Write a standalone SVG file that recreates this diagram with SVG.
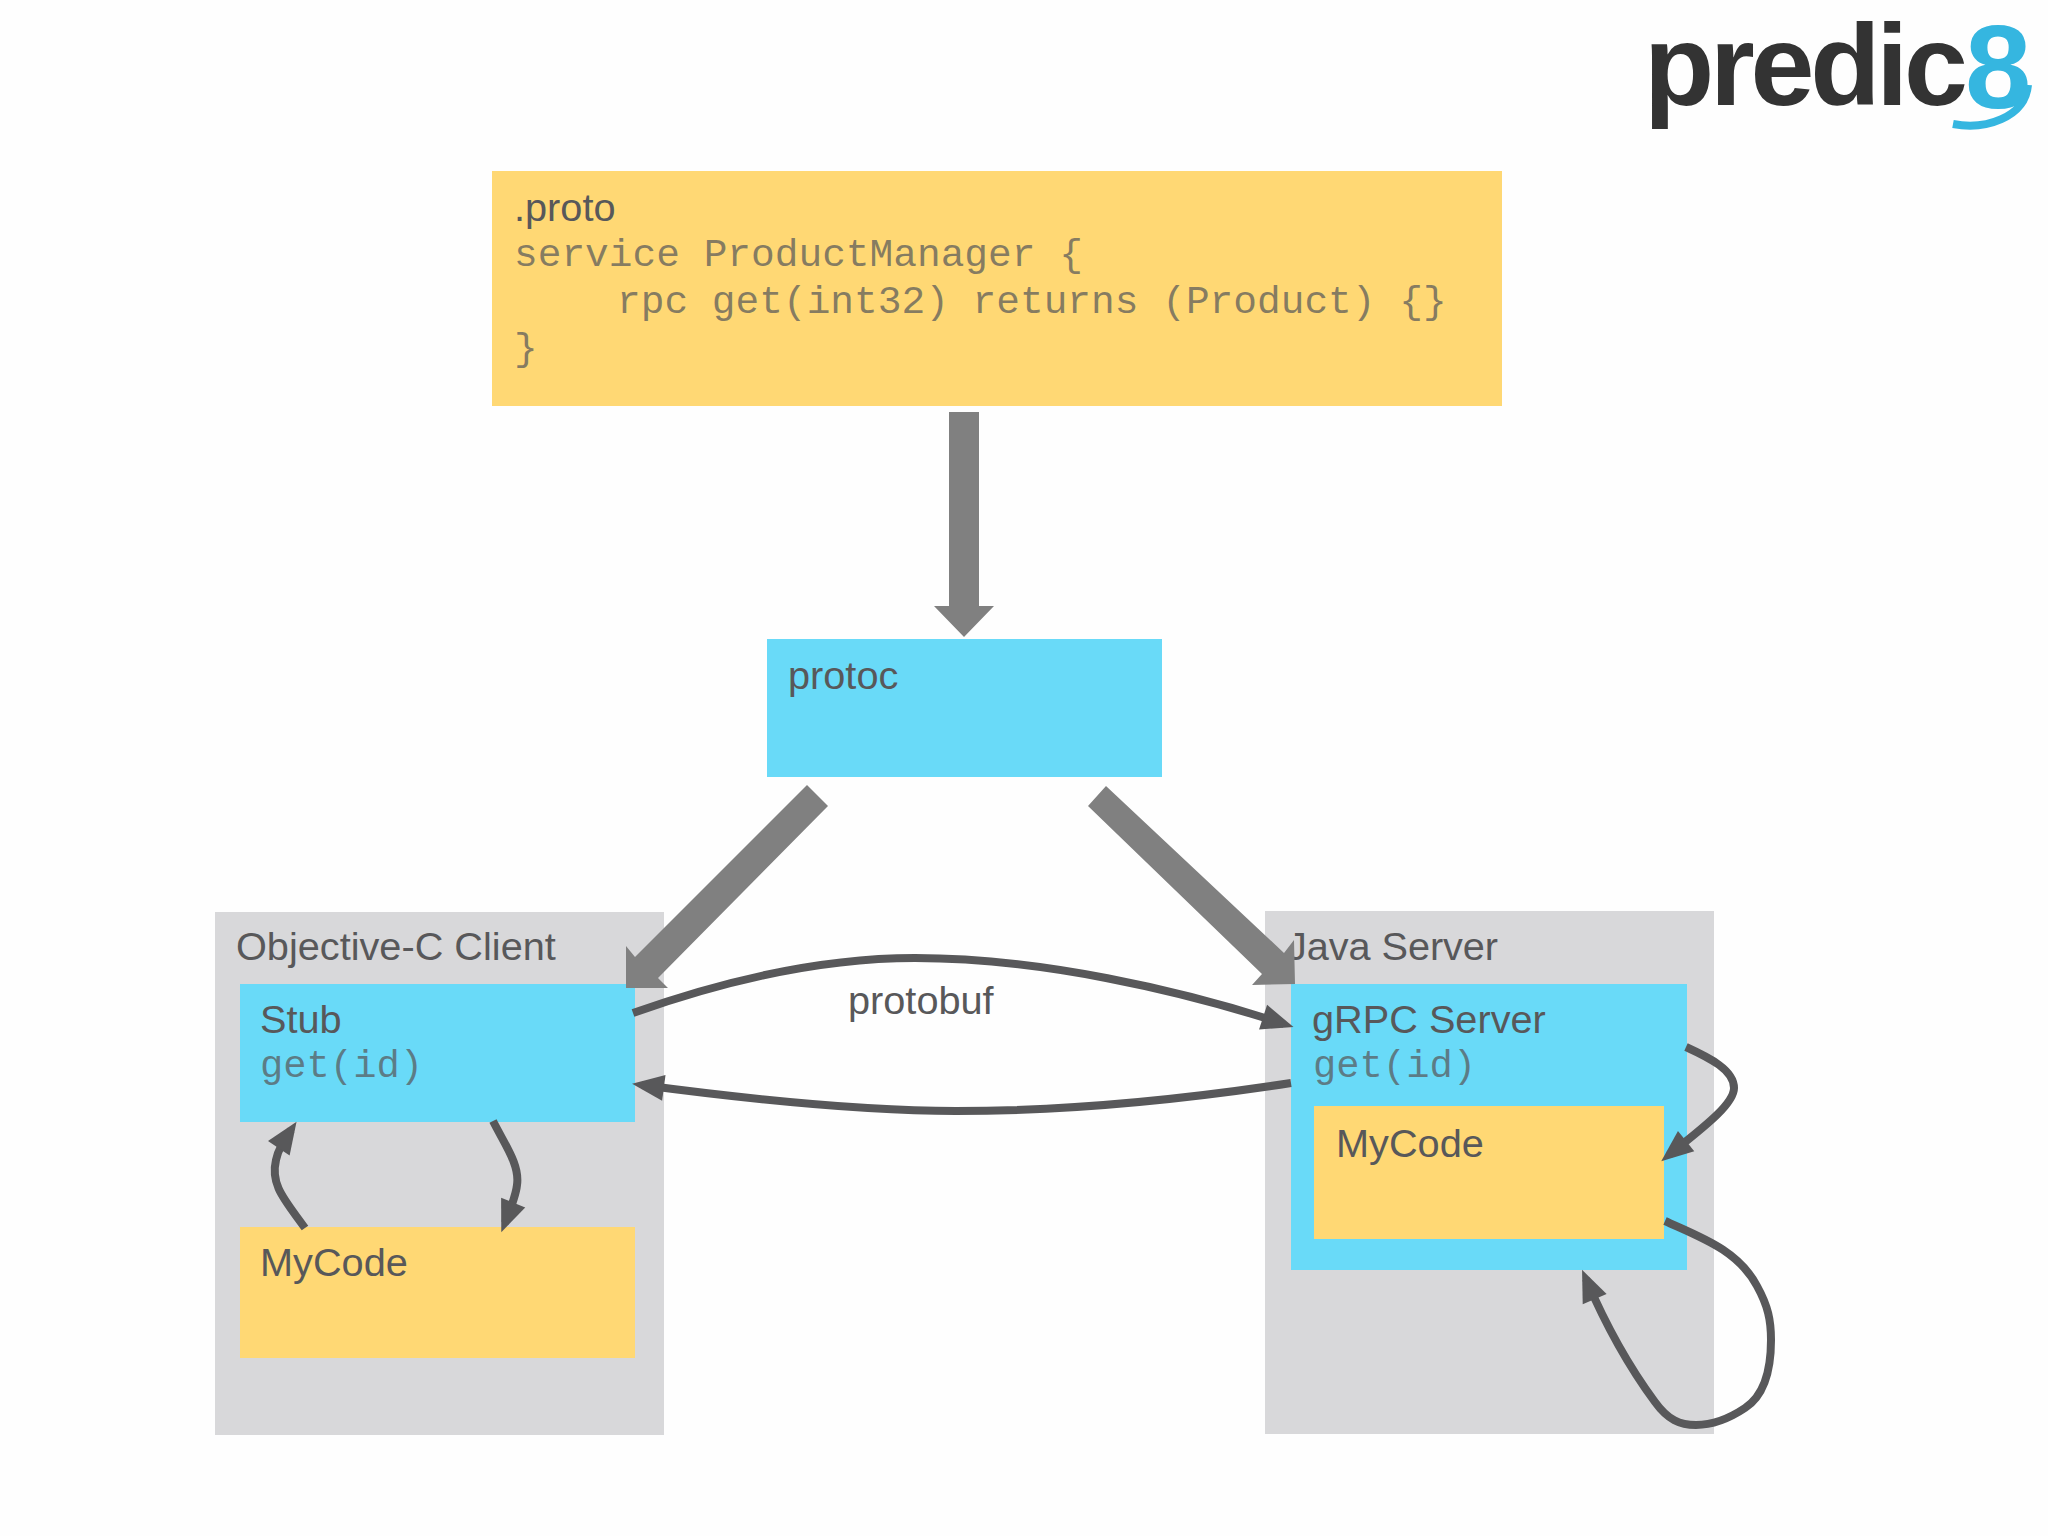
<svg xmlns="http://www.w3.org/2000/svg" width="2048" height="1536" viewBox="0 0 2048 1536">
<style>
.y{fill:#FFD874}.b{fill:#69DAF8}.g{fill:#D8D8DA}
.s{font-family:"Liberation Sans",Arial,sans-serif;font-size:39.7px;fill:#58585A}
.m{font-family:"Liberation Mono","Courier New",monospace;font-size:39.5px;fill:#58585A;fill-opacity:.72;font-weight:normal}
.big{fill:#808080}
.c{fill:none;stroke:#58585A;stroke-width:8;marker-end:url(#h)}
</style>
<defs>
<marker id="h" markerUnits="userSpaceOnUse" markerWidth="34" markerHeight="30" refX="4" refY="15" orient="auto" overflow="visible"><path d="M-18 2L14 15L-18 28Z" fill="#58585A"/></marker>
</defs>
<rect width="2048" height="1536" fill="#FEFEFE"/>
<g id="logo">
<text x="1644" y="105" font-family="'Liberation Sans',Arial,sans-serif" font-weight="700" font-size="115" fill="#333333" textLength="324" lengthAdjust="spacing">predic</text>
<text x="1965" y="108" font-family="'Liberation Sans',Arial,sans-serif" font-weight="700" font-size="119" fill="#35B6E0">8</text>
<path d="M1953 124C1985 130 2025 118 2028 85" fill="none" stroke="#35B6E0" stroke-width="8"/>
</g>
<g id="proto"><rect class="y" x="492" y="171" width="1010" height="235"/>
<text class="s" x="514" y="221">.proto</text>
<text class="m" x="514" y="266">service ProductManager {</text>
<text class="m" x="617" y="313">rpc get(int32) returns (Product) {}</text>
<text class="m" x="514" y="360">}</text></g>
<g id="protoc"><rect class="b" x="767" y="639" width="395" height="138"/><text class="s" x="788" y="689">protoc</text></g>
<g id="client"><rect class="g" x="215" y="912" width="449" height="523"/><text class="s" x="236" y="960">Objective-C Client</text></g>
<g id="stub"><rect class="b" x="240" y="984" width="395" height="138"/><text class="s" x="260" y="1033">Stub</text><text class="m" style="font-size:38.8px" x="260" y="1077">get(id)</text></g>
<g id="client-mycode"><rect class="y" x="240" y="1227" width="395" height="131"/><text class="s" x="260" y="1276">MyCode</text></g>
<g id="server"><rect class="g" x="1265" y="911" width="449" height="523"/><text class="s" x="1287" y="960" textLength="211">Java Server</text></g>
<g id="grpc"><rect class="b" x="1291" y="984" width="396" height="286"/><text class="s" x="1312" y="1033">gRPC Server</text><text class="m" style="font-size:38.8px" x="1313" y="1077">get(id)</text></g>
<g id="server-mycode"><rect class="y" x="1314" y="1106" width="350" height="133"/><text class="s" x="1336" y="1157">MyCode</text></g>
<g id="protobuf-label"><text class="s" x="848" y="1014">protobuf</text></g>
<g id="connectors">
<polygon class="big" points="949,412 979,412 979,606 994,606 964,637 934,606 949,606"/>
<polygon class="big" points="807,785 828,806 658,978 668,988 626,988 626,946 635,957"/>
<polygon class="big" points="1106,786 1284,953 1294,940 1295,984 1252,985 1262,974 1088,806"/>
<path class="c" d="M633 1013C740 975 830 958 915 958C1040 958 1180 990 1284 1024"/>
<path class="c" d="M1291 1083C1180 1100 1060 1111 956 1111C860 1111 740 1098 642 1085"/>
<path class="c" d="M305 1228C285 1200 270 1185 276 1160C278 1150 283 1142 291 1130"/>
<path class="c" d="M493 1121C505 1145 520 1165 517 1185C516 1195 511 1208 505 1223"/>
<path class="c" d="M1686 1047C1710 1058 1734 1070 1734 1088C1734 1105 1700 1130 1669 1155"/>
<path class="c" d="M1665 1221C1700 1237 1738 1250 1757 1286C1768 1306 1771 1320 1771 1340C1771 1370 1765 1395 1745 1408C1730 1418 1712 1425 1696 1425C1680 1425 1668 1420 1655 1402C1635 1375 1610 1335 1586 1279"/>
</g>
</svg>
